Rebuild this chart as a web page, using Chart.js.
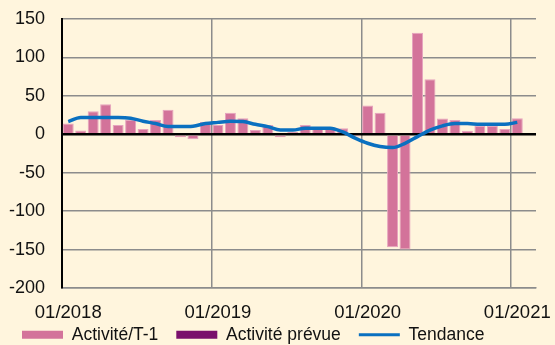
<!DOCTYPE html>
<html>
<head>
<meta charset="utf-8">
<script src="https://cdn.jsdelivr.net/npm/chart.js@4"></script>
<style>
  html, body { margin: 0; padding: 0; background: #FFF5DD; }
  #wrap { width: 555px; height: 345px; }
</style>
</head>
<body>
<div id="wrap"><canvas id="chart" width="555" height="345"></canvas></div>
<script>
// monthly categories, the last one stays empty
const months = [
  "01/2018", "02/2018", "03/2018", "04/2018", "05/2018", "06/2018",
  "07/2018", "08/2018", "09/2018", "10/2018", "11/2018", "12/2018",
  "01/2019", "02/2019", "03/2019", "04/2019", "05/2019", "06/2019",
  "07/2019", "08/2019", "09/2019", "10/2019", "11/2019", "12/2019",
  "01/2020", "02/2020", "03/2020", "04/2020", "05/2020", "06/2020",
  "07/2020", "08/2020", "09/2020", "10/2020", "11/2020", "12/2020",
  "01/2021", "02/2021"
];

const activiteT1 = [
  14, 5, 30, 39, 12, 19, 7, 18.5, 32, -4, -6.5, 16,
  12, 28, 21, 5.5, 12, -4, 3, 12, 7, 7, 8, -3,
  37.5, 28, -147, -150, 132, 71.5, 20.5, 18.5, 4.7, 11, 11, 7,
  21, null
];

const activitePrevue = [];

const tendance = [
  16.5, 22, 22, 22, 22, 21, 17, 14, 10, 10, 10.5, 14,
  15.5, 17, 16.5, 13, 10, 5.5, 5.5, 8, 8, 8, 3, -5,
  -11.7, -16, -17.3, -11.7, -3, 5.5, 11, 14, 14, 13, 13, 13,
  15.5, null
];

const yTicks = [-200, -150, -100, -50, 0, 50, 100, 150];

const PINK = "#D3739A";
const PURPLE = "#7A0F6C";
const BLUE = "#0A70C0";
const GRID = "#8C8C8C";
const FONT = "'Liberation Sans', Arial, sans-serif";

const ctx = document.getElementById("chart").getContext("2d");

const chart = new Chart(ctx, {
  data: {
    labels: months,
    datasets: [
      {
        type: "bar",
        label: "Activité/T-1",
        data: activiteT1,
        backgroundColor: PINK,
        borderColor: "#E6A3BE",
        borderWidth: 1,
        grouped: false,
        categoryPercentage: 1,
        barPercentage: 0.88,
        order: 2
      },
      {
        type: "bar",
        label: "Activité prévue",
        data: activitePrevue,
        backgroundColor: PURPLE,
        borderWidth: 0,
        grouped: false,
        order: 3
      },
      {
        type: "line",
        label: "Tendance",
        data: tendance,
        borderColor: BLUE,
        backgroundColor: BLUE,
        borderWidth: 3.5,
        pointRadius: 0,
        cubicInterpolationMode: "monotone",
        fill: false,
        order: 1
      }
    ]
  },
  options: {
    responsive: false,
    animation: false,
    layout: { padding: { top: 19, right: 19, left: 4, bottom: -26.5 } },
    plugins: {
      tooltip: { enabled: false },
      legend: {
        position: "bottom",
        align: "start",
        labels: {
          font: { family: FONT, size: 17.5 },
          color: "#111",
          usePointStyle: true,
          pointStyleWidth: 41,
          boxHeight: 8,
          padding: 18,
          sort: (a, b) => a.datasetIndex - b.datasetIndex,
          generateLabels(c) {
            const items = Chart.defaults.plugins.legend.labels.generateLabels(c);
            items.forEach(it => {
              if (it.datasetIndex === 2) {
                it.pointStyle = "line";
                it.lineWidth = 3;
              } else {
                it.pointStyle = "rect";
                it.lineWidth = 0;
              }
            });
            return items;
          }
        }
      }
    },
    scales: {
      x: {
        offset: true,
        grid: {
          offset: true,
          drawTicks: false,
          lineWidth: 1.5,
          color: (c) => (c.index % 12 === 0 ? GRID : "rgba(0,0,0,0)")
        },
        border: { color: GRID, width: 1.5 },
        ticks: {
          autoSkip: false,
          maxRotation: 0,
          padding: 14,
          color: "#111",
          font: { family: FONT, size: 18.5 },
          callback(v, i) { return i % 12 === 0 ? months[i] : ""; }
        },
        afterFit(s) { s.height = 38; }
      },
      y: {
        min: -200,
        max: 150,
        afterBuildTicks(s) { s.ticks = yTicks.map(v => ({ value: v })); },
        grid: {
          drawTicks: false,
          lineWidth: (c) => (c.tick && c.tick.value === 0 ? 2.5 : 1.5),
          color: (c) => (c.tick && c.tick.value === 0 ? "#000" : GRID)
        },
        border: { color: "#000", width: 2 },
        ticks: {
          padding: 17,
          color: "#111",
          font: { family: FONT, size: 18 }
        },
        afterFit(s) {
          s.width = 58;
          s.paddingTop = 0;
          s.paddingBottom = 0;
        }
      }
    }
  },
  plugins: [{
    id: "bg",
    beforeDraw(c) {
      const g = c.ctx;
      g.save();
      g.fillStyle = "#FFF5DD";
      g.fillRect(0, 0, c.width, c.height);
      g.restore();
    },
    afterLayout(c) {
      // legend row sits just under the date labels
      const lg = c.legend;
      const h = lg.bottom - lg.top;
      lg.top = 308;
      lg.bottom = 308 + h;
    }
  }]
});
</script>
</body>
</html>
